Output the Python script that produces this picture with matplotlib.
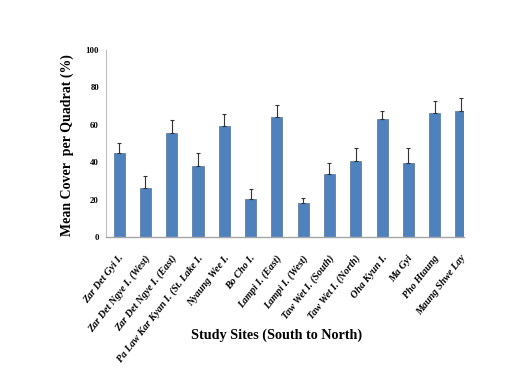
import matplotlib
matplotlib.use('Agg')
import matplotlib.pyplot as plt
import matplotlib.transforms as mtransforms
import numpy as np

# ── Data ───────────────────────────────────────────────────
SITES = ['Zar Det Gyi I.', 'Zar Det Ngye I. (West)', 'Zar Det Ngye I. (East)',
         'Pa Law Kar Kyan I. (St. Lake I.', 'Nyaung Wee I.', 'Bo Cho I.',
         'Lampi I. (East)', 'Lampi I. (West)', 'Taw Wet I. (South)',
         'Taw Wet I. (North)', 'Oha Kyun I.', 'Ma Gyi', 'Pho Htaung',
         'Maung Shwe Lay']
MEAN_COVER = [44.7, 26.0, 55.6, 38.0, 59.3, 20.5, 64.2, 18.4, 33.6, 40.4,
              62.9, 39.3, 66.5, 67.4]
ERR = [5.3, 6.7, 7.0, 6.9, 6.7, 5.1, 6.6, 2.3, 6.2, 7.2, 4.5, 8.3, 6.4, 7.1]
Y_TICKS = [0, 20, 40, 60, 80, 100]

plt.rcParams['font.family'] = ['Liberation Serif', 'DejaVu Serif']

fig = plt.figure(figsize=(5.12, 3.81), dpi=100, facecolor='white')
ax = fig.add_axes([0.207, 0.378, 0.700, 0.491])

x = np.arange(len(SITES))
ax.bar(x, MEAN_COVER, width=0.42, color='#4F81BD', edgecolor='#3A5F8C',
       linewidth=0.4, zorder=2)
ax.errorbar(x, MEAN_COVER, yerr=[np.zeros(len(ERR)), ERR], fmt='none',
            ecolor='#333333', elinewidth=0.8, capsize=1.5, capthick=0.8,
            zorder=3)

# right edge is cropped through the last bar, as in the source picture
ax.set_xlim(-0.5, 13.13)
ax.set_ylim(0, 100)
ax.set_yticks(Y_TICKS)
ax.set_yticklabels([str(v) for v in Y_TICKS], fontsize=6.3, fontweight='bold')
ax.set_xticks(x)
ax.set_xticklabels(SITES, rotation=52, ha='right', va='center',
                   rotation_mode='anchor', fontsize=7.3, fontweight='bold',
                   fontstyle='italic')
ax.tick_params(axis='y', length=0, pad=5)
ax.tick_params(axis='x', length=0, pad=14)

# nudge x labels a few pixels right
shift = mtransforms.ScaledTranslation(0.03, 0, fig.dpi_scale_trans)
for lbl in ax.get_xticklabels():
    lbl.set_transform(lbl.get_transform() + shift)

for side in ['top', 'right']:
    ax.spines[side].set_visible(False)
ax.spines['left'].set_color('#BFBFBF')
ax.spines['bottom'].set_color('#A6A6A6')
ax.spines['left'].set_linewidth(0.8)
ax.spines['bottom'].set_linewidth(1.0)

fig.text(0.131, 0.62, 'Mean Cover  per Quadrat (%)', rotation=90,
         ha='center', va='center', fontsize=10, fontweight='bold')
fig.text(0.54, 0.121, 'Study Sites (South to North)', ha='center',
         va='center', fontsize=10.2, fontweight='bold')

plt.savefig('out.png', dpi=100, facecolor=fig.get_facecolor())
plt.close()
